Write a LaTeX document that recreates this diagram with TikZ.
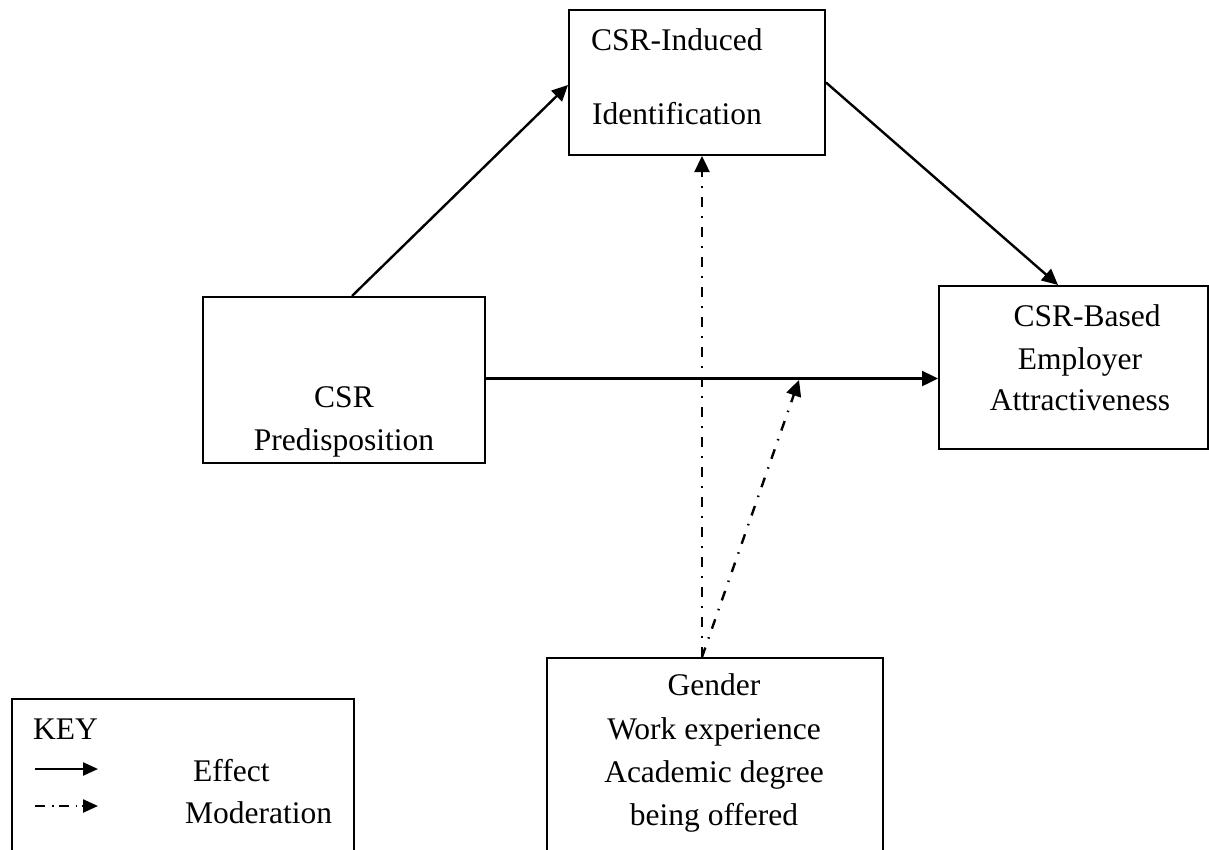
\documentclass[tikz,border=0pt]{standalone}
\usepackage{fontspec}
\setmainfont{Liberation Serif}
\usetikzlibrary{arrows.meta,calc}
\begin{document}
\begin{tikzpicture}[x=1pt,y=-1pt,
  box/.style={draw,line width=2pt,inner sep=0pt,rectangle},
  txt/.style={inner sep=0pt,font=\fontsize{31.5}{40}\selectfont},
  eff/.style={line width=2.4pt,-{Triangle[length=16pt,width=15pt]}},
  moder/.style={line width=2.4pt,dash pattern=on 10pt off 9.5pt on 1.5pt off 9pt,-{Triangle[length=16pt,width=15pt]}},
  keymod/.style={line width=2.4pt,dash pattern=on 10pt off 7pt on 1.5pt off 5pt,-{Triangle[length=15pt,width=13pt]}},
  keyeff/.style={line width=2.4pt,-{Triangle[length=15pt,width=13pt]}}]
\clip (0,0) rectangle (1209,849);
\fill[white] (0,0) rectangle (1209,849);
% boxes
\node[box,minimum width=256pt,minimum height=145pt] (ind) at (697,82.5) {};
\node[box,minimum width=282pt,minimum height=166pt] (pred) at (344,380) {};
\node[box,minimum width=269pt,minimum height=163pt] (emp) at (1073.5,367.5) {};
\node[box,minimum width=336pt,minimum height=242pt] (mod) at (715,779) {};
\node[box,minimum width=342pt,minimum height=201pt] (key) at (183,799.5) {};
% texts
\node[txt,anchor=base west] (t1) at (591,50) {CSR-Induced};
\node[txt,anchor=base west] (t2) at (592,124) {Identification};
\node[txt,anchor=base] (t3) at (344,407) {CSR};
\node[txt,anchor=base] (t4) at (344,450) {Predisposition};
\node[txt,anchor=base] (t5) at (1087,326) {CSR-Based};
\node[txt,anchor=base] (t6) at (1080,369) {Employer};
\node[txt,anchor=base] (t7) at (1080,410) {Attractiveness};
\node[txt,anchor=base] (t8) at (714,695) {Gender};
\node[txt,anchor=base] (t9) at (714,739) {Work experience};
\node[txt,anchor=base] (t10) at (714,782) {Academic degree};
\node[txt,anchor=base] (t11) at (714,825) {being offered};
\node[txt,anchor=base west] (k0) at (33,739) {KEY};
\node[txt,anchor=base west] (k1) at (193,781) {Effect};
\node[txt,anchor=base west] (k2) at (185,823) {Moderation};
% connectors
\draw[eff] ([xshift=150pt]pred.north west) -- ([yshift=-2.5pt]ind.west);
\draw[eff] (ind.east) -- ([xshift=-15.5pt]emp.north);
\draw[eff] ([yshift=1.5pt]pred.east) -- ([yshift=1.5pt]pred.east -| emp.west);
\coordinate (ms) at ([xshift=-13pt]mod.north);
\coordinate (hm) at (799,380);
\draw[moder] (ms) -- (ms |- ind.south);
\draw[moder] (ms) -- (hm);
% key arrows
\coordinate (ea) at (35,769); \coordinate (eb) at (98,769);
\coordinate (ma) at (35,806); \coordinate (mb) at (98,806);
\draw[keyeff] (ea) -- (eb);
\draw[keymod] (ma) -- (mb);
\end{tikzpicture}
\end{document}
